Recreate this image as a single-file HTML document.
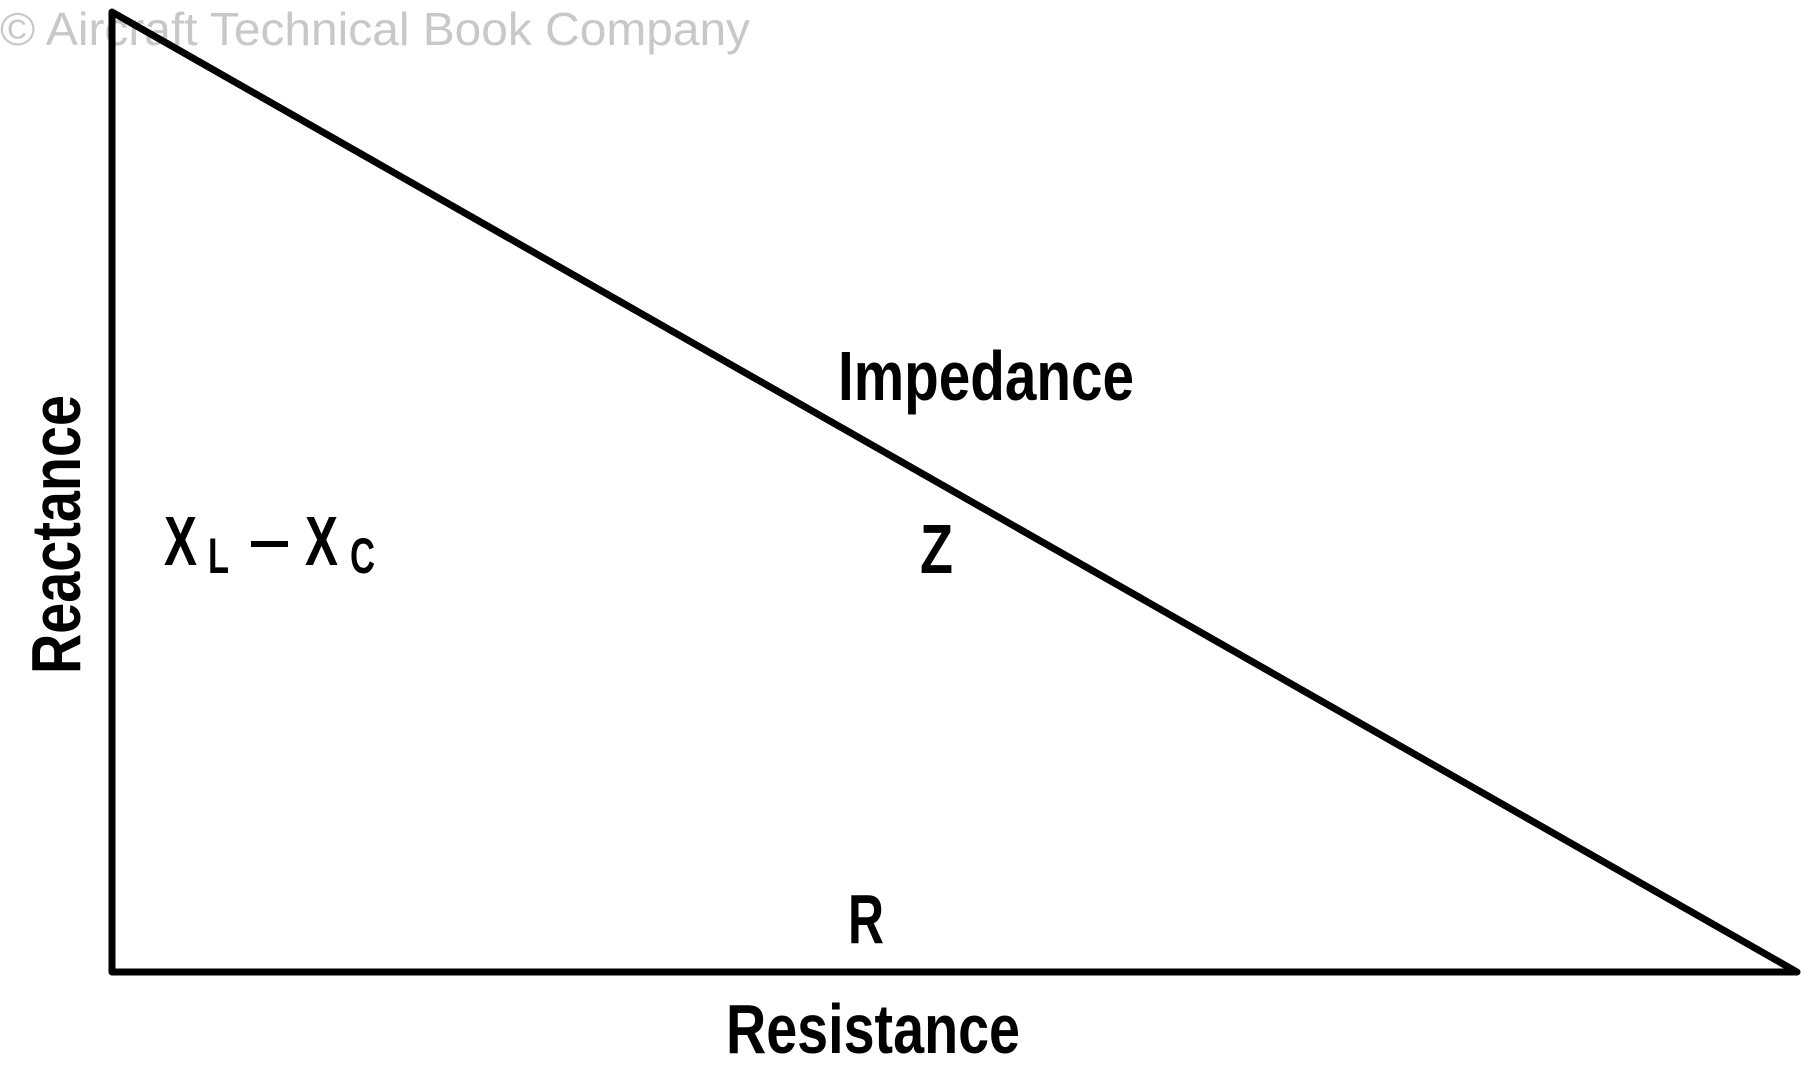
<!DOCTYPE html>
<html><head><meta charset="utf-8"><style>
html,body{margin:0;padding:0;background:#fff;}
svg{display:block;}
text{font-family:"Liberation Sans",sans-serif;}
.b{font-weight:bold;}
</style></head><body>
<svg width="1808" height="1080" viewBox="0 0 1808 1080" xmlns="http://www.w3.org/2000/svg">
<text x="0" y="45" font-size="46" fill="#c8c8c8" textLength="750" lengthAdjust="spacingAndGlyphs">© Aircraft Technical Book Company</text>
<polygon points="112,12 112,972 1797,972" fill="none" stroke="#000" stroke-width="7" stroke-linejoin="round"/>
<text class="b" x="838" y="400" font-size="70" textLength="296" lengthAdjust="spacingAndGlyphs">Impedance</text>
<text class="b" x="920" y="573" font-size="70" textLength="33" lengthAdjust="spacingAndGlyphs">Z</text>
<text class="b" x="848" y="943" font-size="70" textLength="36" lengthAdjust="spacingAndGlyphs">R</text>
<text class="b" x="726" y="1053" font-size="70" textLength="294" lengthAdjust="spacingAndGlyphs">Resistance</text>
<text class="b" transform="translate(80,674) rotate(-90)" x="0" y="0" font-size="70" textLength="279" lengthAdjust="spacingAndGlyphs">Reactance</text>
<text class="b" x="164" y="565" font-size="70" textLength="33" lengthAdjust="spacingAndGlyphs">X</text>
<text class="b" x="208" y="573" font-size="50" textLength="21" lengthAdjust="spacingAndGlyphs">L</text>
<rect x="251" y="541" width="37" height="6" fill="#000"/>
<text class="b" x="305" y="565" font-size="70" textLength="33" lengthAdjust="spacingAndGlyphs">X</text>
<text class="b" x="350" y="573" font-size="50" textLength="25" lengthAdjust="spacingAndGlyphs">C</text>
</svg>
</body></html>
